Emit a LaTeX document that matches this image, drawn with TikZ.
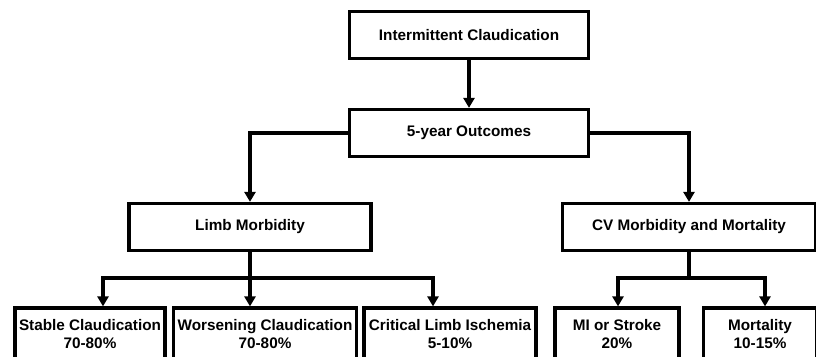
\documentclass[tikz,border=0pt]{standalone}
\usepackage{fontspec}
\setmainfont{Liberation Sans}
\usetikzlibrary{arrows.meta}

\begin{document}
\begin{tikzpicture}[x=1pt, y=-1pt, line width=3.2pt,
        box/.style={draw, line width=3.2pt, align=center, inner sep=0pt,
            font=\bfseries\fontsize{15.3}{18}\selectfont, minimum height=47pt},
        lowbox/.style={box, minimum height=52pt},
        arr/.style={-{Triangle[width=11pt,length=10pt]}}]
        % page
        \useasboundingbox (0,0) rectangle (816,356);
        \clip (0,0) rectangle (816,356);

        % top boxes
        \node[box, minimum width=239pt] (ic) at (469,35) {Intermittent Claudication};
        \node[box, minimum width=239pt] (out) at (469,133) {5-year Outcomes};
        \node[box, minimum width=242pt] (limb) at (250,227) {Limb Morbidity};
        \node[box, minimum width=253pt] (cv) at (689,227) {CV Morbidity and Mortality};

        % bottom boxes
        \node[lowbox, minimum width=150pt] (stable) at (90,334) {Stable Claudication\\70-80\%};
        \node[lowbox, minimum width=183pt] (worse) at (265,334) {Worsening Claudication\\70-80\%};
        \node[lowbox, minimum width=172pt] (crit) at (450,334) {Critical Limb Ischemia\\5-10\%};
        \node[lowbox, minimum width=124pt] (mi) at (617,334) {MI or Stroke\\20\%};
        \node[lowbox, minimum width=113pt] (mort) at (760,334) {Mortality\\10-15\%};

        % arrows from the top
        \draw[arr] (ic) -- (out);
        \draw[arr] (out.west) -| (limb.north);
        \draw[arr] (out.east) -| (cv.north);

        % limb branches
        \coordinate (lj) at (250,278);
        \coordinate (l1) at (103,278);
        \coordinate (l3) at (433,278);
        \draw[arr] (limb.south) -- (lj) -- (l1) -- (l1 |- stable.north);
        \draw[arr] (lj) -- (l3) -- (l3 |- crit.north);
        \draw[arr] (lj) -- (lj |- worse.north);

        % cv branches
        \coordinate (cj) at (689,278);
        \coordinate (c1) at (618,278);
        \coordinate (c2) at (765,278);
        \draw[arr] (cv.south) -- (cj) -- (c1) -- (c1 |- mi.north);
        \draw[arr] (cj) -- (c2) -- (c2 |- mort.north);
\end{tikzpicture}
\end{document}
